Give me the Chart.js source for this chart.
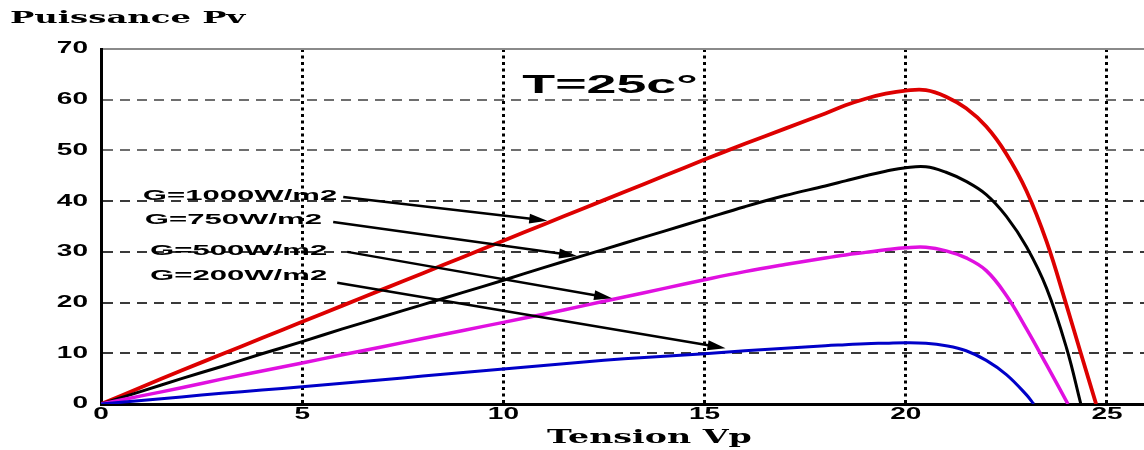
<!DOCTYPE html>
<html>
<head>
<meta charset="utf-8">
<script src="https://cdn.jsdelivr.net/npm/chart.js@4.4.0/dist/chart.umd.min.js"></script>
<style>
  html, body { margin: 0; padding: 0; background: #fff; }
  #wrap { width: 1144px; height: 450px; }
</style>
</head>
<body>
<div id="wrap"><canvas id="pvChart"></canvas></div>
<script>
// P-V curves of the panel at T=25°C, one per irradiance
var volts1000 = [0, 1, 2, 3, 4, 5, 6, 7, 8, 9, 10, 11, 12, 13, 14, 15, 16, 17, 18, 18.5, 19, 19.5, 20, 20.5, 21, 21.5, 22, 22.5, 23, 23.5, 24, 24.35, 24.73];
var power1000 = [0, 3.3, 6.6, 9.8, 13.0, 16.2, 19.4, 22.6, 25.8, 29.0, 32.2, 35.4, 38.6, 41.8, 45.0, 48.2, 51.3, 54.3, 57.3, 58.9, 60.2, 61.2, 61.8, 61.9, 60.6, 58.3, 54.7, 49.3, 42.0, 32.0, 19.3, 10.0, 0];

var volts750 = [0, 1, 2, 3, 4, 5, 6, 7, 8, 9, 10, 11, 12, 13, 14, 15, 16, 17, 18, 18.5, 19, 19.5, 20, 20.5, 21, 21.5, 22, 22.5, 23, 23.5, 24, 24.35];
var power750 = [0, 2.5, 5.0, 7.4, 9.9, 12.3, 14.8, 17.2, 19.6, 22.0, 24.4, 26.9, 29.3, 31.7, 34.1, 36.5, 38.9, 41.1, 43.0, 44.0, 45.0, 45.9, 46.6, 46.8, 45.7, 43.9, 41.3, 37.0, 31.0, 22.8, 10.9, 0];

var volts500 = [0, 1, 2, 3, 4, 5, 6, 7, 8, 9, 10, 11, 12, 13, 14, 15, 16, 17, 18, 18.5, 19, 19.5, 20, 20.5, 21, 21.5, 22, 22.5, 23, 23.5, 24.03];
var power500 = [0, 1.6, 3.2, 4.9, 6.5, 8.1, 9.7, 11.3, 12.9, 14.5, 16.1, 17.7, 19.4, 21.1, 22.8, 24.5, 26.1, 27.5, 28.8, 29.4, 29.9, 30.4, 30.8, 30.9, 30.2, 28.8, 26.3, 21.4, 14.8, 7.7, 0];

var volts200 = [0, 1, 2, 3, 4, 5, 6, 7, 8, 9, 10, 11, 12, 13, 14, 15, 16, 17, 18, 18.5, 19, 19.5, 20, 20.5, 21, 21.5, 22, 22.5, 23, 23.18];
var power200 = [0, 0.7, 1.4, 2.1, 2.75, 3.4, 4.1, 4.8, 5.5, 6.2, 6.9, 7.6, 8.3, 8.9, 9.4, 9.9, 10.5, 11.0, 11.5, 11.7, 11.9, 12.0, 12.1, 12.0, 11.5, 10.5, 8.6, 5.8, 1.8, 0];

var seriesLabels = ['G=1000W/m2', 'G=750W/m2', 'G=500W/m2', 'G=200W/m2'];
var xTicks = [0, 5, 10, 15, 20, 25];
var yTicks = [0, 10, 20, 30, 40, 50, 60, 70];

// label / arrow anchors, in data units (volts, watts)
var labelAt = [[1.04, 41.0], [1.09, 36.3], [1.22, 30.2], [1.22, 25.2]];
var arrowFrom = [[6.02, 40.8], [5.77, 35.9], [6.12, 30.0], [5.87, 23.9]];
var arrowTo = [[11.09, 36.15], [11.83, 29.2], [12.70, 20.85], [15.52, 11.0]];

function pairs(xs, ys) {
    return xs.map(function (v, i) { return { x: v, y: ys[i] }; });
}

// the source picture is squeezed: text is about twice as wide as it is tall
function stretchText(ctx, text, x, y, font, sx, align) {
    ctx.save();
    ctx.font = font;
    ctx.textBaseline = 'middle';
    ctx.textAlign = 'left';
    var w = ctx.measureText(text).width * sx;
    var left = align === 'right' ? x - w : (align === 'center' ? x - w / 2 : x);
    ctx.translate(left, y);
    ctx.scale(sx, 1);
    ctx.fillStyle = '#000';
    ctx.fillText(text, 0, 0);
    ctx.restore();
}

var tickFont = 'bold 16px "Liberation Sans"';

var annotate = {
    id: 'annotate',
    afterDatasetsDraw: function (chart) {
        var ctx = chart.ctx, xs = chart.scales.x, ys = chart.scales.y, area = chart.chartArea;

        xs.ticks.forEach(function (t) {
            stretchText(ctx, String(t.value), xs.getPixelForValue(t.value), area.bottom + 11, tickFont, 1.75, 'center');
        });
        ys.ticks.forEach(function (t) {
            stretchText(ctx, String(t.value), area.left - 13, ys.getPixelForValue(t.value), tickFont, 1.75, 'right');
        });

        stretchText(ctx, 'Puissance Pv', 10, 19, 'bold 17px "DejaVu Serif"', 1.9, 'left');
        stretchText(ctx, 'Tension Vp', 547, 438, 'bold 18px "DejaVu Serif"', 1.85, 'left');
        stretchText(ctx, 'T=25c°', xs.getPixelForValue(10.47), ys.getPixelForValue(62.7), 'bold 25px "Liberation Sans"', 2.15, 'left');

        seriesLabels.forEach(function (txt, i) {
            stretchText(ctx, txt, xs.getPixelForValue(labelAt[i][0]), ys.getPixelForValue(labelAt[i][1]), 'bold 14px "Liberation Sans"', 2.22, 'left');

            var x1 = xs.getPixelForValue(arrowFrom[i][0]), y1 = ys.getPixelForValue(arrowFrom[i][1]);
            var x2 = xs.getPixelForValue(arrowTo[i][0]), y2 = ys.getPixelForValue(arrowTo[i][1]);
            var a = Math.atan2(y2 - y1, x2 - x1);
            ctx.save();
            ctx.strokeStyle = '#000';
            ctx.fillStyle = '#000';
            ctx.lineWidth = 2.5;
            ctx.beginPath();
            ctx.moveTo(x1, y1);
            ctx.lineTo(x2 - 10 * Math.cos(a), y2 - 10 * Math.sin(a));
            ctx.stroke();
            ctx.beginPath();
            ctx.moveTo(x2, y2);
            ctx.lineTo(x2 - 18 * Math.cos(a) + 5 * Math.sin(a), y2 - 18 * Math.sin(a) - 5 * Math.cos(a));
            ctx.lineTo(x2 - 18 * Math.cos(a) - 5 * Math.sin(a), y2 - 18 * Math.sin(a) + 5 * Math.cos(a));
            ctx.closePath();
            ctx.fill();
            ctx.restore();
        });
    }
};

var ctxP = document.getElementById('pvChart').getContext('2d');
var pvChart = new Chart(ctxP, {
    type: 'line',
    data: {
        datasets: [{
                label: seriesLabels[3],
                data: pairs(volts200, power200),
                borderColor: '#0000c8',
                borderWidth: 3
            },
            {
                label: seriesLabels[2],
                data: pairs(volts500, power500),
                borderColor: '#e010e0',
                borderWidth: 3.5
            },
            {
                label: seriesLabels[1],
                data: pairs(volts750, power750),
                borderColor: '#000000',
                borderWidth: 3
            },
            {
                label: seriesLabels[0],
                data: pairs(volts1000, power1000),
                borderColor: '#dd0000',
                borderWidth: 3.8
            }
        ]
    },
    options: {
        responsive: true,
        maintainAspectRatio: false,
        animation: false,
        devicePixelRatio: 1,
        layout: { padding: { top: 49, left: 0, right: 0, bottom: 0 } },
        elements: {
            point: { radius: 0 },
            line: { tension: 0.4, fill: false }
        },
        plugins: {
            legend: { display: false },
            title: { display: false },
            tooltip: { enabled: false }
        },
        scales: {
            x: {
                type: 'linear',
                min: 0,
                max: 25.92,
                afterBuildTicks: function (s) {
                    s.ticks = xTicks.map(function (v) { return { value: v }; });
                },
                afterFit: function (s) { s.height = 46; },
                ticks: { display: false },
                grid: {
                    drawTicks: false,
                    lineWidth: 3,
                    color: function (c) { return c.tick && c.tick.value === 0 ? 'rgba(0,0,0,0)' : '#000'; }
                },
                border: { display: true, color: '#000', width: 3, dash: [3, 3.5] }
            },
            y: {
                min: 0,
                max: 70,
                afterBuildTicks: function (s) {
                    s.ticks = yTicks.map(function (v) { return { value: v }; });
                },
                afterFit: function (s) { s.width = 101; },
                ticks: { display: false },
                grid: {
                    drawTicks: false,
                    lineWidth: 2,
                    color: function (c) {
                        if (!c.tick) return '#000';
                        var v = c.tick.value;
                        if (v === 0) return 'rgba(0,0,0,0)';
                        if (v === 70) return '#8a8a8a';
                        if (v >= 50) return '#6e6e6e';
                        return '#3a3a3a';
                    }
                },
                border: {
                    display: true,
                    color: '#000',
                    width: 3,
                    dash: function (c) { return c.tick && c.tick.value === 70 ? [] : [10, 7]; }
                }
            }
        }
    },
    plugins: [annotate]
});
</script>
</body>
</html>
